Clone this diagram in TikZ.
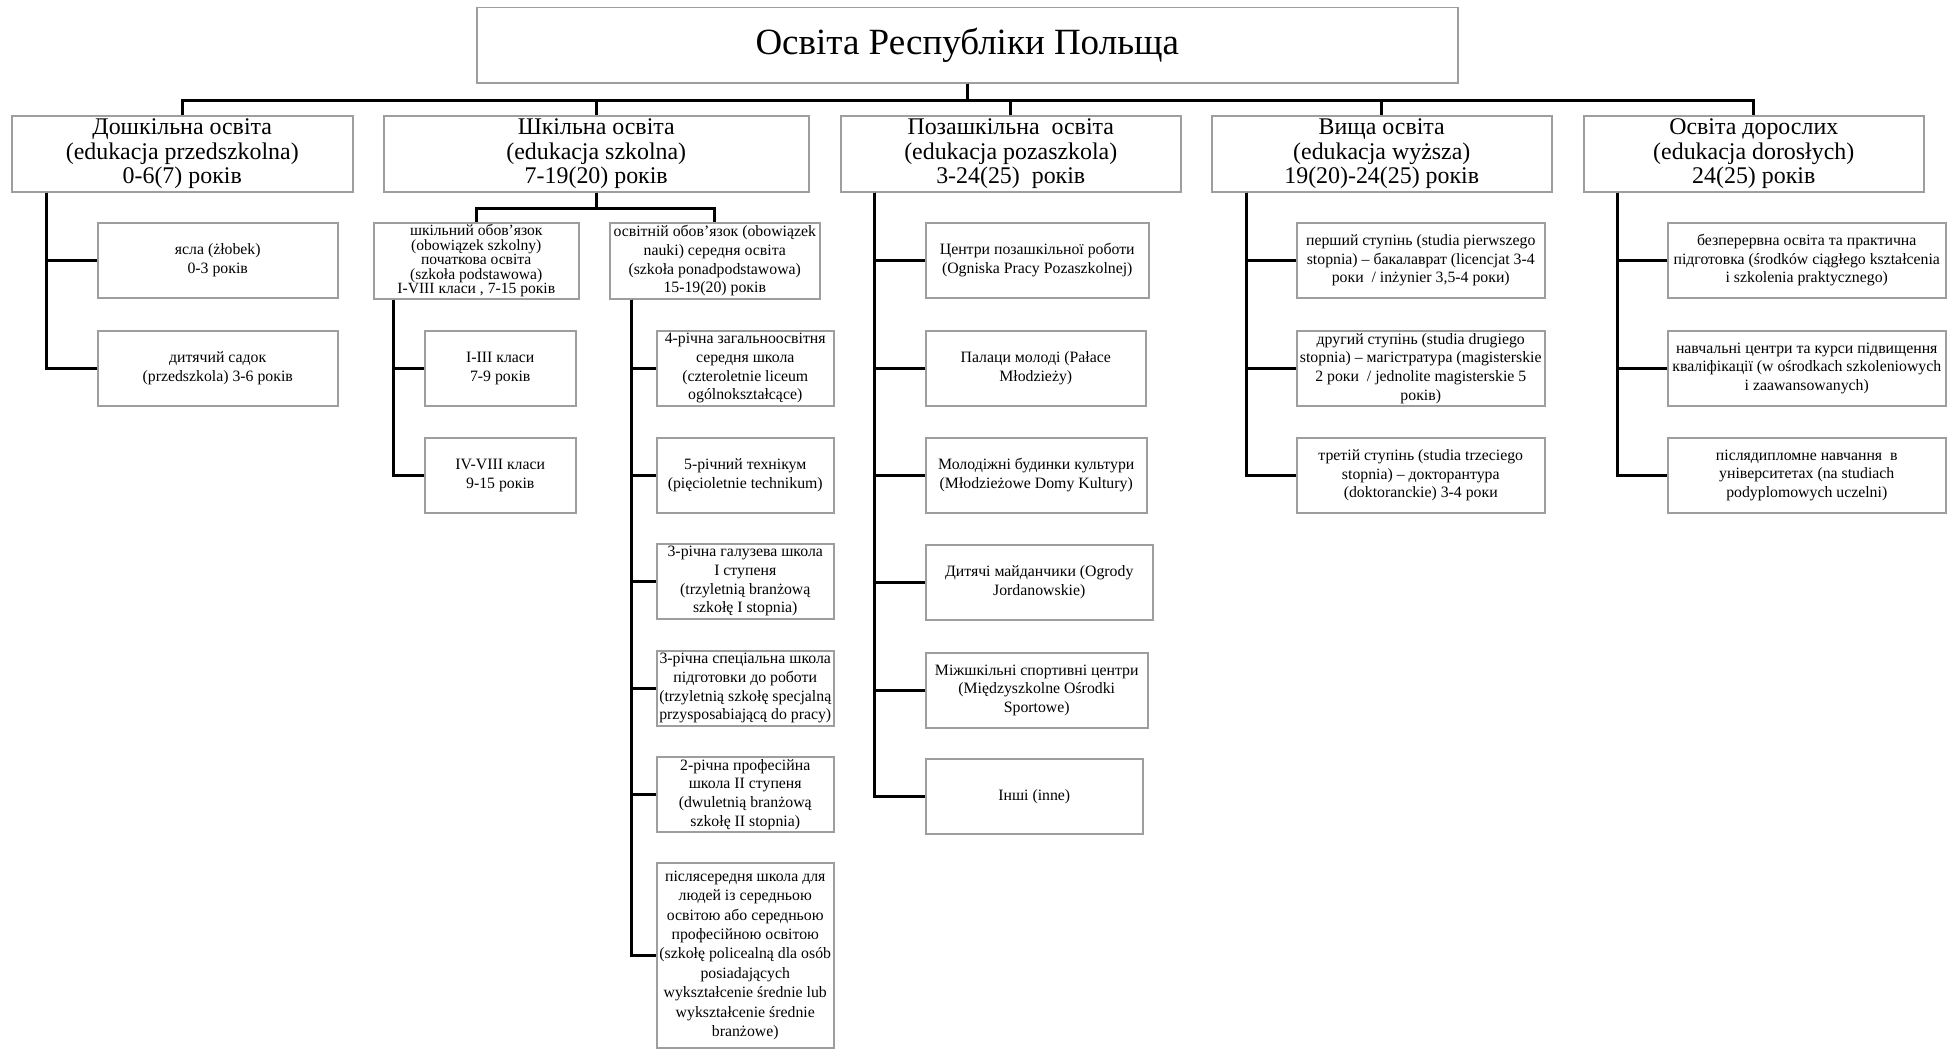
\documentclass[tikz,border=0pt]{standalone}
\usepackage{fontspec}
\setmainfont{Liberation Serif}
\usepackage{xcolor}
\usepackage{tikz}
\usetikzlibrary{positioning}

\definecolor{boxgray}{gray}{0.62}

\begin{document}
\begin{tikzpicture}[x=1pt,y=-1pt,
  box/.style={draw=boxgray,line width=1.5pt,align=center,anchor=north west},
  topbox/.style={box,minimum height=75pt,font=\fontsize{37}{40}\selectfont},
  lvl/.style={box,inner sep=0.5pt,minimum height=76pt,font=\fontsize{23.9}{24.7}\selectfont},
  leaf/.style={box,inner sep=1pt,minimum height=75pt,font=\fontsize{15.8}{18.7}\selectfont},
  conn/.style={line width=3pt}]

\useasboundingbox (0,0) rectangle (1959,1049);

% --- title ---
\node[topbox,minimum width=981pt] (title) at (476,7) {Освіта Республіки Польща};

% --- level 1 ---
\node[lvl,minimum width=341pt] (pre) at (11,115) {Дошкільна освіта\\(edukacja przedszkolna)\\0-6(7) років};
\node[lvl,minimum width=425pt] (school) at (383,115) {Шкільна освіта\\(edukacja szkolna)\\7-19(20) років};
\node[lvl,minimum width=340pt] (extra) at (840,115) {Позашкільна\ \ освіта\\(edukacja pozaszkola)\\3-24(25)\ \ років};
\node[lvl,minimum width=340pt] (higher) at (1211,115) {Вища освіта\\(edukacja wyższa)\\19(20)-24(25) років};
\node[lvl,minimum width=340pt] (adult) at (1583,115) {Освіта дорослих\\(edukacja dorosłych)\\24(25) років};

\foreach \n in {pre,school,extra,higher,adult}
  \draw[conn] (title.south) -- ++(0,16.5) -| (\n.north);

% --- preschool ---
\node[leaf,minimum width=240pt] (zlobek) at (97,222) {ясла (żłobek)\\0-3 років};
\node[leaf,minimum width=240pt] (sadok) at (97,330) {дитячий садок\\(przedszkola) 3-6 років};

\foreach \n in {zlobek,sadok}
  \draw[conn] ([xshift=35pt]pre.south west) |- (\n.west);

% --- school ---
\node[leaf,minimum width=205pt,minimum height=76pt,inner sep=0pt,
  font=\fontsize{15.6}{14.5}\selectfont] (oblig) at (373,222)
  {шкільний обов’язок\\(obowiązek szkolny)\\початкова освіта\\(szkoła podstawowa)\\I-VIII класи , 7-15 років};
\node[leaf,minimum width=210pt,minimum height=76pt] (second) at (609,222)
  {освітній обов’язок (obowiązek\\nauki) середня освіта\\(szkoła ponadpodstawowa)\\15-19(20) років};

\foreach \n in {oblig,second}
  \draw[conn] (school.south) -- ++(0,16) -| (\n.north);

\node[leaf,minimum width=151pt] (gr13) at (424,330) {I-III класи\\7-9 років};
\node[leaf,minimum width=151pt] (gr48) at (424,437) {IV-VIII класи\\9-15 років};

\foreach \n in {gr13,gr48}
  \draw[conn] ([xshift=20pt]oblig.south west) |- (\n.west);

\node[leaf,minimum width=177pt] (lic) at (656,330) {4-річна загальноосвітня\\середня школа\\(czteroletnie liceum\\ogólnokształcące)};
\node[leaf,minimum width=177pt] (tech) at (656,437) {5-річний технікум\\(pięcioletnie technikum)};
\node[leaf,minimum width=177pt] (bran1) at (656,543) {3-річна галузева школа\\I ступеня\\(trzyletnią branżową\\szkołę I stopnia)};
\node[leaf,minimum width=177pt] (spec) at (656,650) {3-річна спеціальна школа\\підготовки до роботи\\(trzyletnią szkołę specjalną\\przysposabiającą do pracy)};
\node[leaf,minimum width=177pt] (bran2) at (656,756) {2-річна професійна\\школа II ступеня\\(dwuletnią branżową\\szkołę II stopnia)};
\node[leaf,minimum width=177pt,minimum height=185pt,font=\fontsize{15.8}{19.4}\selectfont] (post) at (656,862)
  {післясередня школа для\\людей із середньою\\освітою або середньою\\професійною освітою\\(szkołę policealną dla osób\\posiadających\\wykształcenie średnie lub\\wykształcenie średnie\\branżowe)};

\foreach \n in {lic,tech,bran1,spec,bran2,post}
  \draw[conn] ([xshift=22pt]second.south west) |- (\n.west);

% --- out of school ---
\node[leaf,minimum width=223pt] (ex1) at (925,222) {Центри позашкільної роботи\\(Ogniska Pracy Pozaszkolnej)};
\node[leaf,minimum width=220pt] (ex2) at (925,330) {Палаци молоді (Pałace\\Młodzieży)};
\node[leaf,minimum width=221pt] (ex3) at (925,437) {Молодіжні будинки культури\\(Młodzieżowe Domy Kultury)};
\node[leaf,minimum width=227pt] (ex4) at (925,544) {Дитячі майданчики (Ogrody\\Jordanowskie)};
\node[leaf,minimum width=222pt] (ex5) at (925,652) {Міжшкільні спортивні центри\\(Międzyszkolne Ośrodki\\Sportowe)};
\node[leaf,minimum width=217pt] (ex6) at (925,758) {Інші (inne)};

\foreach \n in {ex1,ex2,ex3,ex4,ex5,ex6}
  \draw[conn] ([xshift=34pt]extra.south west) |- (\n.west);

% --- higher ---
\node[leaf,minimum width=248pt] (hi1) at (1296,222) {перший ступінь (studia pierwszego\\stopnia) – бакалаврат (licencjat 3-4\\роки\ \ / inżynier 3,5-4 роки)};
\node[leaf,minimum width=248pt] (hi2) at (1296,330) {другий ступінь (studia drugiego\\stopnia) – магістратура (magisterskie\\2 роки\ \ / jednolite magisterskie 5\\років)};
\node[leaf,minimum width=248pt] (hi3) at (1296,437) {третій ступінь (studia trzeciego\\stopnia) – докторантура\\(doktoranckie) 3-4 роки};

\foreach \n in {hi1,hi2,hi3}
  \draw[conn] ([xshift=35pt]higher.south west) |- (\n.west);

% --- adults ---
\node[leaf,minimum width=278pt] (ad1) at (1667,222) {безперервна освіта та практична\\підготовка (środków ciągłego kształcenia\\i szkolenia praktycznego)};
\node[leaf,minimum width=278pt] (ad2) at (1667,330) {навчальні центри та курси підвищення\\кваліфікації (w ośrodkach szkoleniowych\\i zaawansowanych)};
\node[leaf,minimum width=278pt] (ad3) at (1667,437) {післядипломне навчання\ \ в\\університетах (na studiach\\podyplomowych uczelni)};

\foreach \n in {ad1,ad2,ad3}
  \draw[conn] ([xshift=34pt]adult.south west) |- (\n.west);

\end{tikzpicture}
\end{document}
